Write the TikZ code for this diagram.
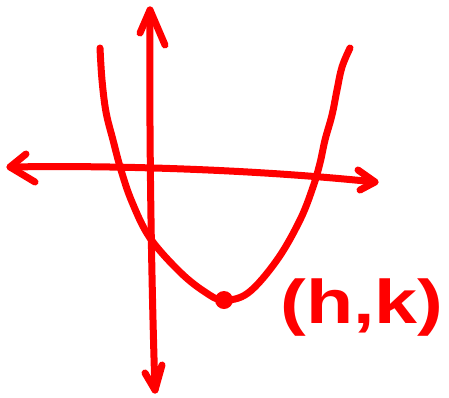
\documentclass[tikz,border=0pt]{standalone}
\usepackage{fontspec}
\setmainfont{Liberation Sans}
\definecolor{pen}{RGB}{255,0,0}
\tikzset{
  ink/.style={draw=pen, line width=7bp, line cap=round, line join=round},
  barb/.style={ink},
}
\begin{document}
\begin{tikzpicture}[x=1bp,y=-1bp]
\useasboundingbox (0,0) rectangle (449,397);
% coordinates of axis ends
\coordinate (ytop) at (150,10);
\coordinate (ybot) at (155,390);
\coordinate (xleft) at (10,167);
\coordinate (xright) at (375,182);
% vertical axis
\draw[ink] (ybot) .. controls (152,300) and (149,150) .. (ytop);
\draw[barb] (140,33) -- (ytop) -- (165,45);
\draw[barb] (145,373) -- (ybot) -- (162,365);
% horizontal axis
\draw[ink] (xleft) .. controls (120,165) and (260,170) .. (xright);
\draw[barb] (26,154) -- (xleft) -- (35,182);
\draw[barb] (358,170) -- (xright) -- (360,190);
% parabola
\draw[ink] plot[smooth, tension=0.6] coordinates {
  (100,48) (102,80) (106,112) (113,140) (121,170) (132,202) (150,238)
  (180,272) (205,292) (223,300) (248,293) (277,260) (300,220) (313,187)
  (320,163) (325,140) (332,115) (337,90) (342,67) (350,48)};
% vertex dot
\fill[pen] (224,300) circle (9bp);
\node[text=pen, font=\bfseries\fontsize{62}{62}\selectfont, xscale=1.25, anchor=center] (lbl) at (362,308) {(h,k)};
\end{tikzpicture}
\end{document}
